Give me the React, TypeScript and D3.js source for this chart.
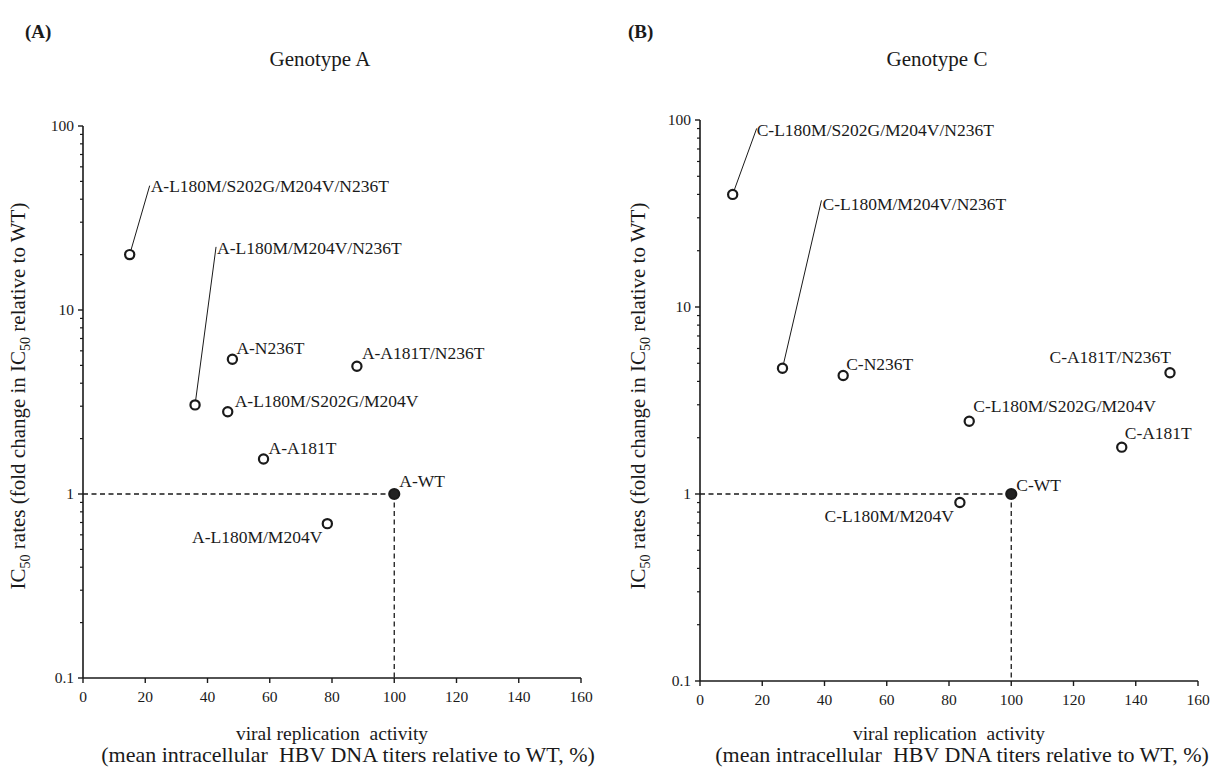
import * as d3 from 'd3';

// Genotype A mutants: replication activity (% of WT) and IC50 fold change
const genotypeALabels = [
  'A-L180M/S202G/M204V/N236T',
  'A-L180M/M204V/N236T',
  'A-N236T',
  'A-A181T/N236T',
  'A-L180M/S202G/M204V',
  'A-A181T',
  'A-WT',
  'A-L180M/M204V',
];
const genotypeAActivity = [15, 36, 48, 88, 46.5, 58, 100, 78.5];
const genotypeAIC50 = [20, 3.05, 5.4, 4.95, 2.8, 1.55, 1, 0.69];

// Genotype C mutants
const genotypeCLabels = [
  'C-L180M/S202G/M204V/N236T',
  'C-L180M/M204V/N236T',
  'C-N236T',
  'C-A181T/N236T',
  'C-L180M/S202G/M204V',
  'C-A181T',
  'C-WT',
  'C-L180M/M204V',
];
const genotypeCActivity = [10.5, 26.5, 46, 151, 86.5, 135.5, 100, 83.5];
const genotypeCIC50 = [40, 4.7, 4.3, 4.45, 2.45, 1.78, 1, 0.9];

const xTicks = [0, 20, 40, 60, 80, 100, 120, 140, 160];
const yMajorTicks = [0.1, 1, 10, 100];
const yTickLabels = ['0.1', '1', '10', '100'];

// label placement (pixel offsets from the point), leader = end of the pointer line
type Place = { dx: number; dy: number; anchor?: string; leader?: [number, number] };
const placeA: Place[] = [
  { dx: 21, dy: -63, leader: [20, -69] },
  { dx: 22, dy: -151, leader: [21, -158] },
  { dx: 4, dy: -5 },
  { dx: 5, dy: -7 },
  { dx: 7, dy: -5 },
  { dx: 5, dy: -5 },
  { dx: 5, dy: -7 },
  { dx: -5, dy: 19, anchor: 'end' },
];
const placeC: Place[] = [
  { dx: 24, dy: -58, leader: [24, -66] },
  { dx: 40, dy: -158, leader: [39, -168] },
  { dx: 3, dy: -6 },
  { dx: 1, dy: -10, anchor: 'end' },
  { dx: 4, dy: -9 },
  { dx: 3, dy: -8 },
  { dx: 5, dy: -3 },
  { dx: -6, dy: 19, anchor: 'end' },
];

const FONT = '"Liberation Serif", "Times New Roman", serif';
const INK = '#1a1a1a';

function Panel(props: {
  letter: string;
  title: string;
  labels: string[];
  activity: number[];
  ic50: number[];
  place: Place[];
  x0: number;
  yTop: number;
  yBottom: number;
  letterX: number;
  yLabelX: number;
  line2Shift: number;
}) {
  const { labels, activity, ic50, place } = props;
  const x = d3.scaleLinear().domain([0, 160]).range([props.x0, props.x0 + 498]);
  const y = d3.scaleLog().domain([0.1, 100]).range([props.yBottom, props.yTop]);
  const minor: number[] = [];
  [0.1, 1, 10].forEach((d) => {
    for (let k = 2; k <= 9; k++) minor.push(d * k);
  });
  const cx = (x.range()[0] + x.range()[1]) / 2;
  const yMid = 396;
  const r = 4.6;

  return (
    <g fontFamily={FONT} fill={INK}>
      <text x={props.letterX} y={38} fontSize={19} fontWeight="bold">{props.letter}</text>
      <text x={cx - 12} y={66} fontSize={21} textAnchor="middle">{props.title}</text>

      {/* reference lines to WT */}
      <line x1={x(0)} x2={x(100)} y1={y(1)} y2={y(1)} stroke={INK} strokeWidth={1.3} strokeDasharray="5,3.5" />
      <line x1={x(100)} x2={x(100)} y1={y(1)} y2={y(0.1)} stroke={INK} strokeWidth={1.3} strokeDasharray="5,3.5" />

      {/* axes */}
      <line x1={x(0)} x2={x(0)} y1={y(0.1)} y2={y(100)} stroke={INK} strokeWidth={1.6} />
      <line x1={x(0)} x2={x(160)} y1={y(0.1)} y2={y(0.1)} stroke={INK} strokeWidth={1.6} />
      {yMajorTicks.map((t, i) => (
        <g key={'ym' + t}>
          <line x1={x(0) - 5} x2={x(0)} y1={y(t)} y2={y(t)} stroke={INK} strokeWidth={1.4} />
          <text x={x(0) - 9} y={y(t) + 5} fontSize={15.5} textAnchor="end">{yTickLabels[i]}</text>
        </g>
      ))}
      {minor.map((t) => (
        <line key={'yn' + t} x1={x(0) - 3} x2={x(0)} y1={y(t)} y2={y(t)} stroke={INK} strokeWidth={1.2} />
      ))}
      {xTicks.map((t) => (
        <g key={'x' + t}>
          <line x1={x(t)} x2={x(t)} y1={y(0.1)} y2={y(0.1) + 5} stroke={INK} strokeWidth={1.4} />
          <text x={x(t)} y={y(0.1) + 24} fontSize={15.5} textAnchor="middle">{t}</text>
        </g>
      ))}

      {/* axis titles */}
      <text
        transform={`translate(${props.yLabelX},${yMid}) rotate(-90)`}
        fontSize={21}
        textAnchor="middle"
      >
        IC<tspan fontSize={14} dy={5}>50</tspan>
        <tspan dy={-5}> rates (fold change in IC</tspan>
        <tspan fontSize={14} dy={5}>50</tspan>
        <tspan dy={-5}> relative to WT)</tspan>
      </text>
      <text x={cx} y={740} fontSize={19.5} textAnchor="middle" style={{ whiteSpace: 'pre' }}>
        viral replication  activity
      </text>
      <text x={cx + props.line2Shift} y={762} fontSize={22} textAnchor="middle" style={{ whiteSpace: 'pre' }}>
        (mean intracellular  HBV DNA titers relative to WT, %)
      </text>

      {/* points and labels */}
      {labels.map((lab, i) => {
        const px = x(activity[i]);
        const py = y(ic50[i]);
        const p = place[i];
        const isWT = lab.endsWith('WT');
        let leader = null;
        if (p.leader) {
          const [lx, ly] = p.leader;
          const len = Math.hypot(lx, ly);
          leader = (
            <line
              x1={px + (lx / len) * r}
              y1={py + (ly / len) * r}
              x2={px + lx}
              y2={py + ly}
              stroke={INK}
              strokeWidth={1}
            />
          );
        }
        return (
          <g key={lab}>
            {leader}
            <circle
              cx={px}
              cy={py}
              r={isWT ? 5 : r}
              fill={isWT ? '#222' : '#fff'}
              stroke={INK}
              strokeWidth={2.2}
            />
            <text x={px + p.dx} y={py + p.dy} fontSize={17.5} textAnchor={p.anchor || 'start'}>
              {lab}
            </text>
          </g>
        );
      })}
    </g>
  );
}

export default function App() {
  return (
    <svg
      width={1214}
      height={775}
      style={{ position: 'absolute', left: 0, top: 0, background: '#fff' }}
    >
      <rect width={1214} height={775} fill="#fff" />
      <Panel
        letter="(A)"
        title="Genotype A"
        labels={genotypeALabels}
        activity={genotypeAActivity}
        ic50={genotypeAIC50}
        place={placeA}
        x0={83}
        yTop={126}
        yBottom={678}
        letterX={25}
        yLabelX={25}
        line2Shift={16}
      />
      <Panel
        letter="(B)"
        title="Genotype C"
        labels={genotypeCLabels}
        activity={genotypeCActivity}
        ic50={genotypeCIC50}
        place={placeC}
        x0={700}
        yTop={120}
        yBottom={681}
        letterX={628}
        yLabelX={645}
        line2Shift={13}
      />
    </svg>
  );
}
